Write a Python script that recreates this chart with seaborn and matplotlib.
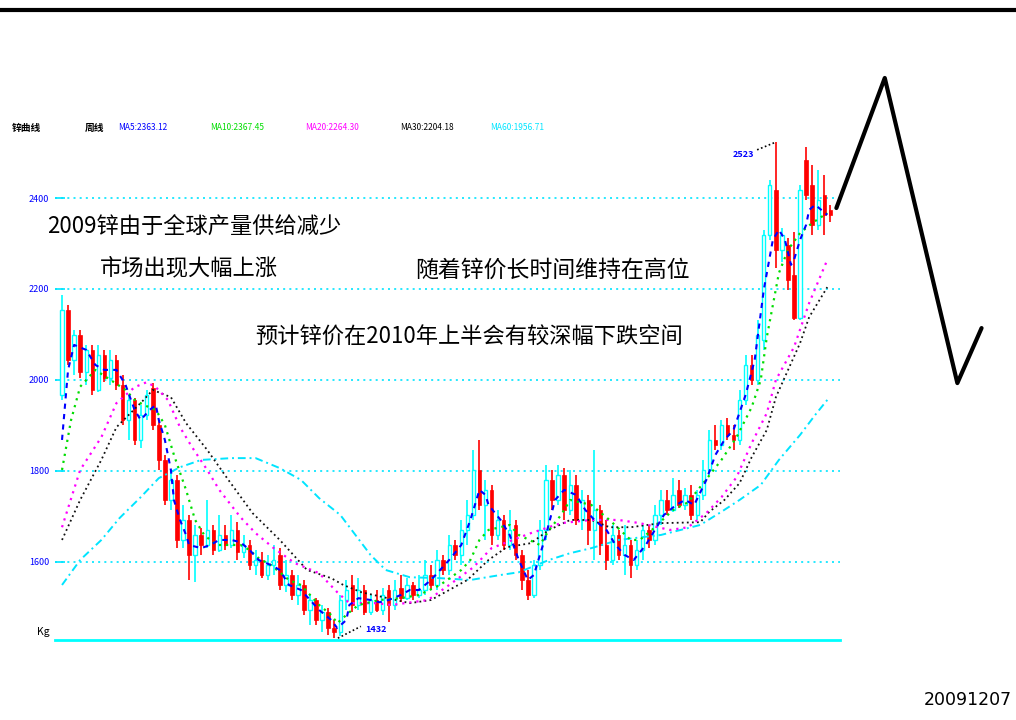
import matplotlib
matplotlib.use("Agg")
import matplotlib.pyplot as plt
from matplotlib.lines import Line2D
import seaborn as sns
import numpy as np
import pandas as pd

# ---------------- data (weekly candles, price units) ----------------
opens = [1967,2154,2044,2099,2017,2066,1978,2055,2004,2044,
         1989,1912,1956,1868,1923,1982,1901,1824,1736,1780,
         1648,1692,1615,1659,1637,1670,1626,1659,1637,1670,
         1621,1637,1593,1604,1571,1593,1615,1549,1571,1527,
         1549,1494,1516,1472,1489,1454,1445,1516,1549,1505,
         1538,1489,1516,1494,1538,1505,1542,1520,1549,1527,
         1538,1571,1549,1604,1582,1637,1615,1670,1703,1802,
         1725,1758,1659,1692,1637,1681,1615,1560,1527,1593,
         1670,1780,1736,1791,1714,1769,1692,1736,1670,1714,
         1637,1604,1659,1615,1637,1593,1626,1670,1648,1703,
         1736,1714,1758,1725,1747,1703,1747,1802,1868,1857,
         1901,1879,1868,1956,2033,2000,2088,2319,2418,2286,
         2297,2231,2136,2484,2429,2341,2407,2374]
closes = [2154,2044,2099,2017,2066,1978,2055,2004,2044,1989,
          1912,1956,1868,1923,1967,1901,1824,1736,1780,1648,
          1692,1615,1659,1637,1670,1626,1659,1637,1670,1621,
          1637,1593,1604,1571,1593,1604,1549,1571,1527,1549,
          1494,1516,1472,1489,1454,1445,1516,1538,1505,1538,
          1489,1516,1494,1527,1505,1538,1520,1549,1527,1538,
          1571,1549,1604,1582,1637,1615,1670,1703,1802,1725,
          1758,1659,1692,1637,1670,1615,1560,1527,1593,1670,
          1780,1736,1791,1714,1769,1692,1736,1670,1714,1637,
          1604,1659,1615,1637,1593,1626,1670,1648,1703,1736,
          1714,1747,1725,1747,1703,1747,1802,1868,1857,1901,
          1879,1868,1956,2033,2000,2099,2319,2429,2286,2319,
          2220,2136,2418,2407,2341,2396,2363,2363]
highs = [2187,2165,2110,2110,2077,2077,2077,2066,2066,2055,
         2011,1967,1960,1945,1978,1993,1912,1835,1802,1791,
         1725,1703,1681,1674,1736,1681,1703,1681,1703,1687,
         1659,1648,1626,1621,1615,1637,1630,1604,1582,1571,
         1560,1527,1520,1505,1498,1472,1527,1560,1571,1564,
         1549,1527,1538,1542,1549,1560,1571,1564,1555,1571,
         1604,1593,1626,1615,1659,1648,1692,1736,1846,1868,
         1780,1769,1714,1703,1714,1692,1626,1582,1604,1692,
         1813,1802,1813,1806,1802,1791,1758,1747,1846,1725,
         1692,1681,1670,1681,1648,1648,1681,1681,1725,1758,
         1758,1784,1780,1762,1769,1758,1824,1890,1901,1912,
         1916,1901,1978,2055,2055,2132,2330,2440,2523,2334,
         2312,2325,2429,2512,2473,2462,2451,2385]
lows = [1956,2033,2011,2004,1989,1967,1973,1995,1989,1978,
        1901,1868,1857,1850,1912,1890,1802,1725,1714,1630,
        1630,1560,1555,1615,1630,1615,1621,1626,1630,1604,
        1608,1582,1571,1564,1560,1571,1538,1533,1516,1505,
        1483,1461,1461,1445,1439,1432,1436,1494,1489,1494,
        1483,1483,1489,1483,1467,1494,1511,1516,1516,1520,
        1527,1538,1538,1571,1571,1604,1593,1637,1692,1714,
        1648,1637,1648,1626,1626,1604,1538,1516,1520,1582,
        1648,1714,1725,1692,1703,1681,1670,1637,1604,1615,
        1582,1593,1604,1571,1564,1582,1604,1630,1637,1681,
        1703,1710,1718,1714,1692,1692,1736,1791,1846,1846,
        1868,1846,1857,1945,1989,1989,2066,2308,2246,2259,
        2198,2132,2132,2396,2319,2330,2319,2347]

# moving averages (candle index, price)
ma5_x = [0,1,2,4,5.5,7,9,10.5,12,13,14.5,15.5,16,17,18,18.5,19.5,20.5,21,23,24.5,26,28,29.5,31,32.5,34.5,36,37.5,39.5,41,42.5,44.5,45.5,47,47.5,49,51,52.5,54,56,57.5,59,61,62.5,64,66,67.5,69,70,70.5,72.5,74,75.5,77,78,80,81.5,83,85,86.5,88,90,91.5,93,94.5,96.5,98,99.5,101.5,103,104.5,106.5,108,109.5,111,113,114.5,116,117.5,118.5,119.5,120.5,121,122,123,123.5,124.5,125.5,126.5]
ma5_y = [1868,2022,2077,2066,2033,2022,2022,1989,1934,1912,1934,1945,1912,1868,1802,1736,1692,1659,1637,1630,1637,1648,1648,1643,1626,1604,1593,1582,1549,1538,1516,1494,1472,1454,1472,1505,1520,1516,1511,1516,1527,1538,1538,1560,1582,1604,1637,1692,1758,1747,1725,1692,1659,1604,1560,1571,1659,1736,1758,1747,1714,1692,1670,1637,1615,1604,1637,1670,1703,1725,1736,1725,1780,1835,1868,1890,1967,2044,2198,2308,2330,2308,2253,2264,2308,2341,2374,2385,2374,2363]
ma10_x = [0,1.5,3,5.5,8,10.5,12,13.5,15.5,17,18.5,20.5,22,23.5,25.5,29.5,31,32.5,34.5,36,37.5,39.5,41,42.5,44.5,45.5,47.5,49,52.5,56,59,62.5,66,67.5,69,70.5,74,75.5,79,80.5,82.5,84,87.5,90.5,94,95.5,97.5,101,103.5,106,109,111.5,114,115.5,116.5,118.5,120,122,124,126.5]
ma10_y = [1802,1912,1985,2022,2000,1978,1956,1945,1934,1901,1835,1758,1692,1659,1637,1637,1626,1608,1593,1577,1560,1549,1527,1505,1483,1465,1489,1505,1516,1520,1527,1549,1582,1604,1648,1670,1681,1659,1637,1670,1703,1736,1725,1692,1648,1648,1670,1714,1731,1773,1824,1874,1940,2000,2094,2235,2286,2323,2345,2367]
ma20_x = [0,3,6.5,9,12,14,15.5,17.5,19.5,21.5,24,26,29.5,32,35,38.5,42.5,45.5,47.5,52,54.5,60.5,64,68,71,74.5,77.5,82.5,87.5,92,95.5,100.5,103.5,106.5,109,111.5,114,116.5,118,121,123.5,126.5]
ma20_y = [1676,1802,1874,1949,1984,1995,1984,1956,1896,1852,1802,1758,1698,1663,1630,1597,1575,1533,1509,1509,1505,1516,1549,1588,1630,1648,1663,1685,1692,1692,1685,1670,1676,1707,1742,1786,1861,1927,2000,2072,2169,2264]
ma30_x = [0,3,6.5,9,13.5,15,18,20.5,24,27.5,31.5,36,40.5,44.5,46.5,49.5,52.5,57.5,61,64,67,70.5,73.5,77.5,80.5,84,87.5,90.5,94,99,105.5,107,109.5,112,114,116.5,118,122,123.5,126.5]
ma30_y = [1648,1736,1824,1896,1956,1978,1962,1905,1846,1780,1707,1648,1582,1564,1549,1533,1524,1509,1516,1538,1560,1604,1632,1641,1670,1692,1692,1676,1676,1685,1687,1710,1736,1773,1830,1890,1962,2081,2138,2204]
ma60_x = [0,3,6.5,9.5,13,16,19.5,23,28,32,36,39.5,42.5,46,48.5,51,53.5,57.5,62.5,67.5,72.5,75.5,80.5,84,87.5,92,99,105.5,109,112,115.5,118.5,122,124.5,126.5]
ma60_y = [1549,1604,1648,1696,1742,1784,1808,1824,1828,1828,1806,1780,1740,1703,1659,1615,1582,1566,1564,1560,1571,1577,1604,1619,1630,1648,1659,1681,1710,1736,1769,1824,1879,1923,1956]

# hand-drawn forecast zigzag (candle index, price)
fc_x = [128, 136, 148, 152]
fc_y = [2378, 2664, 1993, 2114]

ytick_vals = [2400, 2200, 2000, 1800, 1600]
ytick_labels = ["2400", "2200", "2000", "1800", "1600"]

legend_items = [("MA5:2363.12", "#0000FF"), ("MA10:2367.45", "#00DD00"),
                ("MA20:2264.30", "#FF00FF"), ("MA30:2204.18", "#000000"),
                ("MA60:1956.71", "#00E5FF")]

notes = ["2009锌由于全球产量供给减少", "市场出现大幅上涨",
         "随着锌价长时间维持在高位", "预计锌价在2010年上半会有较深幅下跌空间"]

# ---------------- plotting ----------------
sns.set_theme(style="white")
plt.rcParams['font.family'] = ['Noto Sans CJK SC', 'DejaVu Sans']

W, H = 1016, 720
fig = plt.figure(figsize=(W / 100, H / 100), dpi=100)
fig.patch.set_facecolor("white")

# top rule
fig.add_artist(Line2D([0, 1], [1 - 10 / H, 1 - 10 / H], color="black", lw=3.0))

ax = fig.add_axes([55 / W, 80 / H, 785 / W, 505 / H])
ax.set_facecolor("white")
ax.set_xlim(-1.16, 128.6)
ax.set_ylim(1428, 2538.6)

df = pd.DataFrame({"o": opens, "c": closes, "h": highs, "l": lows})
df["i"] = np.arange(len(df))
up = df[df.c >= df.o]
dn = df[df.c < df.o]

# gridlines
for v in ytick_vals:
    ax.axhline(v, color="#00E5FF", lw=1.2, ls=(0, (1.2, 2.5)), zorder=1)

# candles: falling = red filled, rising = cyan hollow
ax.vlines(dn.i, dn.l, dn.h, color="#FF0000", lw=1.2, zorder=2)
ax.bar(dn.i, dn.o - dn.c, bottom=dn.c, width=0.58, color="#FF0000",
       edgecolor="#FF0000", lw=0.5, zorder=2)
ax.vlines(up.i, up.l, up.h, color="#00FFFF", lw=1.2, zorder=2)
ax.bar(up.i, (up.c - up.o).clip(lower=2), bottom=up.o, width=0.55,
       facecolor="white", edgecolor="#00FFFF", lw=1.0, zorder=3)

# moving averages
ma_specs = [
    (ma60_x, ma60_y, "#00E5FF", 1.4, (4, 2, 1, 2)),
    (ma30_x, ma30_y, "#111111", 1.3, (1, 1.8)),
    (ma20_x, ma20_y, "#FF00FF", 1.6, (1, 2.2)),
    (ma10_x, ma10_y, "#00DD00", 1.6, (1, 2.2)),
    (ma5_x, ma5_y, "#0000FF", 1.5, (2.5, 2.5)),
]
for xs, ys, col, lw, dash in ma_specs:
    sns.lineplot(x=xs, y=ys, ax=ax, color=col, lw=lw, sort=False,
                 estimator=None, zorder=4)
    ax.lines[-1].set_dashes(dash)

# forecast zigzag
sns.lineplot(x=fc_x, y=fc_y, ax=ax, color="black", lw=3, sort=False,
             estimator=None, zorder=5)
ax.lines[-1].set_clip_on(False)

# high / low markers
ax.plot([114.9, 118], [2506, 2523], color="black", lw=1.2, ls=(0, (1, 1.5)), zorder=5)
ax.text(114.5, 2495, "2523", color="#0000FF", fontsize=6.5, ha="right", va="center",
        fontweight="bold")
ax.plot([45.6, 49.4], [1432, 1458], color="black", lw=1.2, ls=(0, (1, 1.5)), zorder=5)
ax.text(50.2, 1450, "1432", color="#0000FF", fontsize=6.5, ha="left", va="center",
        fontweight="bold")

# axes styling
for s in ["top", "right", "left"]:
    ax.spines[s].set_visible(False)
ax.spines["bottom"].set_color("#00FFFF")
ax.spines["bottom"].set_linewidth(2)
ax.set_xticks([])
ax.set_yticks(ytick_vals)
ax.set_yticklabels(ytick_labels)
ax.tick_params(axis="y", left=True, length=7, width=1.2, color="#00E5FF",
               direction="in", labelcolor="#0000FF", labelsize=6.5, pad=4)
ax.set_xlabel("")
ax.set_ylabel("")

# legend row
fig.text(12 / W, 1 - 128 / H, "锌曲线", fontsize=7, color="black", va="center",
         fontweight="bold")
fig.text(85 / W, 1 - 128 / H, "周线", fontsize=7, color="black", va="center",
         fontweight="bold")
for (txt, col), xp in zip(legend_items, [118, 210, 305, 400, 490]):
    fig.text(xp / W, 1 - 128 / H, txt, fontsize=6, color=col, va="center")

# annotations
fig.text(47 / W, 1 - 227 / H, notes[0], fontsize=16, va="center", color="black")
fig.text(100 / W, 1 - 268 / H, notes[1], fontsize=16, va="center", color="black")
fig.text(415 / W, 1 - 270 / H, notes[2], fontsize=16.5, va="center", color="black")
fig.text(255 / W, 1 - 337 / H, notes[3], fontsize=16, va="center", color="black")

fig.text(37 / W, 1 - 632 / H, "Kg", fontsize=7.5, va="center", color="black")
fig.text(1012 / W, 1 - 700 / H, "20091207", fontsize=12.5, ha="right", va="center",
         color="black", family="DejaVu Sans")

fig.savefig("out.png", dpi=100, facecolor="white")
